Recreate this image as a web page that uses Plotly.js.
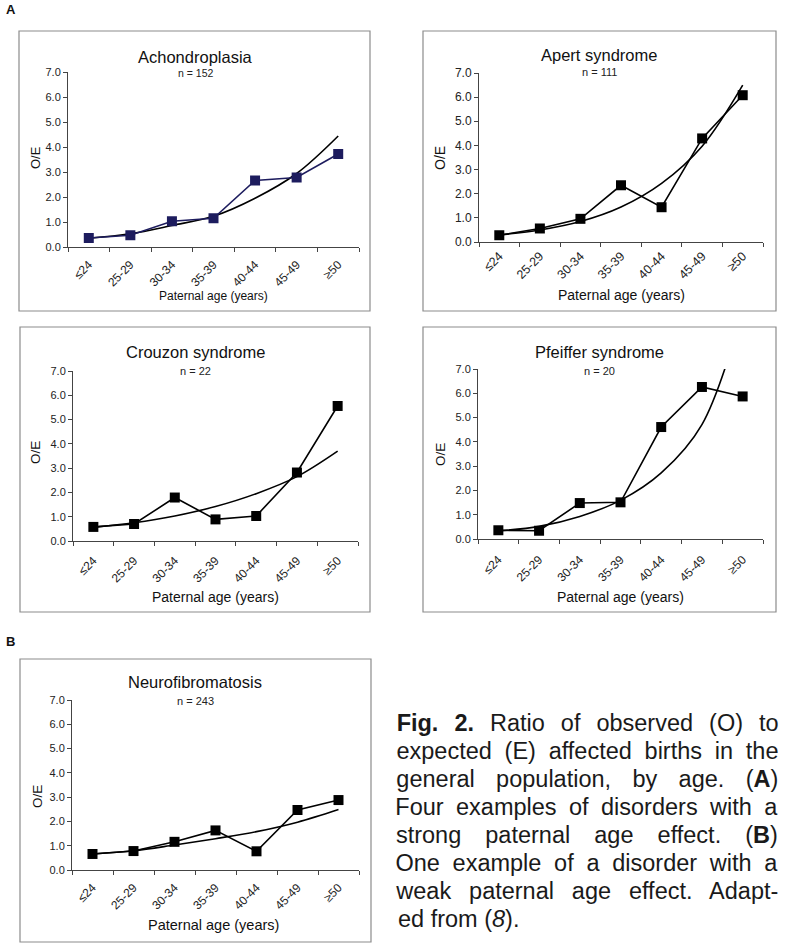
<!DOCTYPE html>
<html>
<head>
<meta charset="utf-8">
<script src="https://cdn.plot.ly/plotly-3.0.1.min.js"></script>
<style>
  html, body { margin: 0; padding: 0; background: #ffffff; }
  #chart { width: 801px; height: 944px; }
</style>
</head>
<body>
<div id="chart"></div>
<script>
// ---------- DATA ----------
const ageGroups = ["≤24", "25-29", "30-34", "35-39", "40-44", "45-49", "≥50"];

const achondroplasiaOE    = [0.36, 0.47, 1.03, 1.15, 2.66, 2.78, 3.72];
const achondroplasiaTrend = [0.35, 0.53, 0.86, 1.23, 1.95, 2.94, 4.44];

const apertOE    = [0.28, 0.56, 0.96, 2.35, 1.44, 4.29, 6.08];
const apertTrend = [0.29, 0.50, 0.85, 1.45, 2.43, 3.97, 6.50];

const crouzonOE    = [0.58, 0.70, 1.79, 0.89, 1.03, 2.82, 5.56];
const crouzonTrend = [0.56, 0.75, 1.03, 1.42, 1.95, 2.65, 3.70];

const pfeifferOE    = [0.36, 0.34, 1.48, 1.51, 4.61, 6.26, 5.87];
const pfeifferTrend = [0.33, 0.52, 0.93, 1.59, 2.72, 4.71, 9.40];

const neuroOE    = [0.66, 0.78, 1.16, 1.63, 0.77, 2.47, 2.88];
const neuroTrend = [0.66, 0.79, 1.03, 1.29, 1.58, 1.97, 2.49];

const panelTitles = ["Achondroplasia", "Apert syndrome", "Crouzon syndrome", "Pfeiffer syndrome", "Neurofibromatosis"];
const panelCounts = ["n = 152", "n = 111", "n = 22", "n = 20", "n = 243"];
const yTickValues = [0, 1, 2, 3, 4, 5, 6, 7];
const xAxisLabel = "Paternal age (years)";
const yAxisLabel = "O/E";

const captionLines = [
  "<b>Fig. 2.</b> Ratio of observed (O) to",
  "expected (E) affected births in the",
  "general population, by age. (<b>A</b>)",
  "Four examples of disorders with a",
  "strong paternal age effect. (<b>B</b>)",
  "One example of a disorder with a",
  "weak paternal age effect. Adapt-",
  "ed from (<i>8</i>)."
];

// ---------- LAYOUT HELPERS ----------
const W = 801, H = 944;
const px = x => x / W;
const py = y => 1 - y / H;
const FONT = "Liberation Sans, Arial, Helvetica, sans-serif";

const panels = [
  { oe: achondroplasiaOE, trend: achondroplasiaTrend, color: "#1d1c5e",
    box: [19, 31, 370, 311], plot: [68, 72, 359, 247],
    title: [195, 57], count: [195, 73], ylab: [35, 158], xlab: [213, 296], standoff: 5,
    fs: { title: 16.5, count: 10.5, ytick: 11, xtick: 12, xlab: 12, ylab: 13 } },
  { oe: apertOE, trend: apertTrend, color: "#000000",
    box: [423, 31, 776, 311], plot: [479, 73, 763, 242],
    title: [599, 55], count: [599, 72], ylab: [440, 158], xlab: [621, 295], standoff: 1,
    fs: { title: 16.5, count: 11, ytick: 12, xtick: 12.5, xlab: 14, ylab: 14 } },
  { oe: crouzonOE, trend: crouzonTrend, color: "#000000",
    box: [20, 327, 370, 612], plot: [73, 371, 358, 541],
    title: [195, 352], count: [195, 371], ylab: [35, 453], xlab: [215, 597], standoff: 7,
    fs: { title: 16.5, count: 11, ytick: 11, xtick: 12, xlab: 14, ylab: 13.5 } },
  { oe: pfeifferOE, trend: pfeifferTrend, color: "#000000",
    box: [423, 327, 776, 612], plot: [478, 369, 763, 539],
    title: [599, 352], count: [599, 371], ylab: [440, 455], xlab: [620, 597], standoff: 8,
    fs: { title: 16.5, count: 11, ytick: 11, xtick: 12, xlab: 14, ylab: 13.5 } },
  { oe: neuroOE, trend: neuroTrend, color: "#000000",
    box: [20, 659, 371, 942], plot: [72, 700, 359, 870],
    title: [195, 682], count: [195, 701], ylab: [37, 797], xlab: [213, 925], standoff: 5,
    fs: { title: 16.5, count: 11, ytick: 11, xtick: 12, xlab: 14.5, ylab: 13.5 } }
];

const traces = [];
const layout = {
  width: W, height: H,
  margin: { l: 0, r: 0, t: 0, b: 0 },
  paper_bgcolor: "#ffffff",
  plot_bgcolor: "rgba(0,0,0,0)",
  showlegend: false,
  font: { family: FONT, color: "#1a1a1a" },
  shapes: [],
  annotations: []
};

panels.forEach((p, i) => {
  const k = i === 0 ? "" : String(i + 1);
  const xa = "x" + k, ya = "y" + k;
  // trend line
  traces.push({
    x: ageGroups, y: p.trend, xaxis: xa, yaxis: ya, type: "scatter", mode: "lines",
    line: { color: "#000000", width: 1.6, shape: "spline", smoothing: 1 },
    hoverinfo: "skip"
  });
  // observed data
  traces.push({
    x: ageGroups, y: p.oe, xaxis: xa, yaxis: ya, type: "scatter", mode: "lines+markers",
    line: { color: p.color, width: 1.6 },
    marker: { symbol: "square", size: 10, color: p.color },
    cliponaxis: false
  });

  layout["xaxis" + k] = {
    domain: [px(p.plot[0]), px(p.plot[2])],
    anchor: ya, type: "category", range: [-0.5, 6.5],
    tickson: "boundaries", ticks: "outside", ticklen: 4, tickwidth: 1, tickcolor: "#444",
    showline: true, linecolor: "#444", linewidth: 1,
    showgrid: false, zeroline: false,
    tickangle: -45, ticklabelstandoff: p.standoff,
    tickfont: { family: FONT, size: p.fs.xtick, color: "#222" },
    fixedrange: true
  };
  layout["yaxis" + k] = {
    domain: [py(p.plot[3]), py(p.plot[1])],
    anchor: xa, range: [0, 7],
    tickvals: yTickValues, tickformat: ".1f",
    ticks: "outside", ticklen: 4, tickwidth: 1, tickcolor: "#444",
    showline: true, linecolor: "#444", linewidth: 1,
    showgrid: false, zeroline: false,
    tickfont: { family: FONT, size: p.fs.ytick, color: "#222" },
    fixedrange: true
  };

  layout.shapes.push({
    type: "rect", xref: "paper", yref: "paper", layer: "below",
    x0: px(p.box[0]), x1: px(p.box[2]), y0: py(p.box[3]), y1: py(p.box[1]),
    line: { color: "#8c8c8c", width: 1.2 }, fillcolor: "rgba(0,0,0,0)"
  });

  layout.annotations.push(
    { text: panelTitles[i], xref: "paper", yref: "paper", x: px(p.title[0]), y: py(p.title[1]),
      xanchor: "center", yanchor: "middle", showarrow: false,
      font: { family: FONT, size: p.fs.title, color: "#111" } },
    { text: panelCounts[i], xref: "paper", yref: "paper", x: px(p.count[0]), y: py(p.count[1]),
      xanchor: "center", yanchor: "middle", showarrow: false,
      font: { family: FONT, size: p.fs.count, color: "#222" } },
    { text: yAxisLabel, xref: "paper", yref: "paper", x: px(p.ylab[0]), y: py(p.ylab[1]),
      xanchor: "center", yanchor: "middle", showarrow: false, textangle: -90,
      font: { family: FONT, size: p.fs.ylab, color: "#111" } },
    { text: xAxisLabel, xref: "paper", yref: "paper", x: px(p.xlab[0]), y: py(p.xlab[1]),
      xanchor: "center", yanchor: "middle", showarrow: false,
      font: { family: FONT, size: p.fs.xlab, color: "#111" } }
  );
});

// section letters
layout.annotations.push(
  { text: "<b>A</b>", xref: "paper", yref: "paper", x: px(4), y: py(9),
    xanchor: "left", yanchor: "middle", showarrow: false, font: { family: FONT, size: 13, color: "#111" } },
  { text: "<b>B</b>", xref: "paper", yref: "paper", x: px(4), y: py(641),
    xanchor: "left", yanchor: "middle", showarrow: false, font: { family: FONT, size: 13, color: "#111" } }
);

// caption
const CAP_LEFT = 396, CAP_RIGHT = 778, CAP_FS = 23.5, CAP_BASE0 = 731, CAP_STEP = 28.1;
const captionIdx = [];
captionLines.forEach((line, j) => {
  const last = j === captionLines.length - 1;
  captionIdx.push(layout.annotations.length);
  layout.annotations.push({
    text: line, xref: "paper", yref: "paper",
    x: last ? px(CAP_LEFT) : px((CAP_LEFT + CAP_RIGHT) / 2),
    y: py(CAP_BASE0 + j * CAP_STEP - 0.35 * CAP_FS),
    xanchor: last ? "left" : "center", align: last ? "left" : "center",
    yanchor: "middle", showarrow: false,
    font: { family: FONT, size: CAP_FS, color: "#1a1a1a" }
  });
});

Plotly.newPlot("chart", traces, layout, { staticPlot: true, displayModeBar: false }).then(gd => {
  // justify caption lines (all but last) by adjusting word spacing
  const target = CAP_RIGHT - CAP_LEFT;
  captionIdx.slice(0, -1).forEach(idx => {
    const el = gd.querySelector('g.annotation[data-index="' + idx + '"] text.annotation-text');
    if (!el) return;
    const len = el.getComputedTextLength();
    const spaces = (el.textContent.match(/ /g) || []).length;
    if (spaces > 0 && len < target) {
      el.style.wordSpacing = ((target - len) / spaces) + "px";
    }
  });
});
</script>
</body>
</html>
